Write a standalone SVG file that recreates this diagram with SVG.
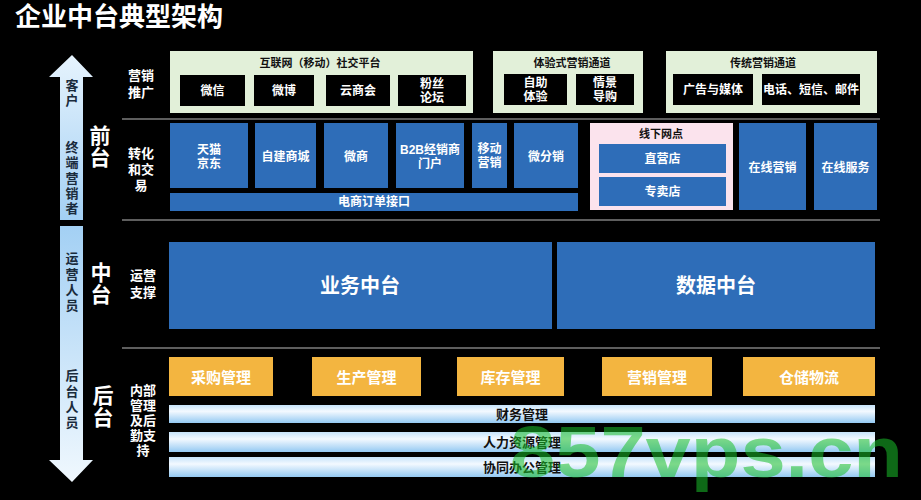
<svg xmlns="http://www.w3.org/2000/svg" width="921" height="500" viewBox="0 0 921 500">
<defs>
<linearGradient id="gUp" x1="0" y1="0" x2="0" y2="1">
<stop offset="0" stop-color="#e6f3fd"/>
<stop offset="1" stop-color="#a3d0f4"/>
</linearGradient>
<linearGradient id="gDown" x1="0" y1="0" x2="0" y2="1">
<stop offset="0" stop-color="#a3d0f4"/>
<stop offset="1" stop-color="#f0f8fe"/>
</linearGradient>
<linearGradient id="gBar" x1="0" y1="0" x2="0" y2="1">
<stop offset="0" stop-color="#c6e3fa"/>
<stop offset="0.35" stop-color="#f3f9ff"/>
<stop offset="1" stop-color="#94c9f2"/>
</linearGradient>
<style>
text{font-family:"Liberation Sans","Noto Sans CJK SC",sans-serif;font-weight:bold;text-anchor:middle;dominant-baseline:central}
.w{fill:#ffffff}
.d{fill:#111111}
.ar{fill:#1a2b3c;font-size:13px}
.big{font-size:21px}
.sub{font-size:13px}
.gt{font-size:11px}
.t12{font-size:12px}
.t15{font-size:15px}
.t13{font-size:13px}
.t20{font-size:20px}
.green{fill:#e2f0d9}
.blk{fill:#000000}
.blue{fill:#2e6db8}
.pink{fill:#fbe3ed}
.org{fill:#f3b540}
.bar{fill:url(#gBar)}
.sep{stroke:#5e5e5e;stroke-width:2}
</style>
</defs>
<rect x="0" y="0" width="921" height="500" fill="#000000"/>

<text x="15" y="17" class="w" style="font-size:26px;text-anchor:start">企业中台典型架构</text>

<g id="arrows">
<path d="M72 55 L93 77 L83 77 L83 220 L60 220 L60 77 L49 77 Z" fill="url(#gUp)"/>
<path d="M60 226 L83 226 L83 460 L93 460 L72 482 L49 460 L60 460 Z" fill="url(#gDown)"/>
<text class="ar" x="72" y="85">客</text>
<text class="ar" x="72" y="100">户</text>
<text class="ar" x="72" y="147">终</text>
<text class="ar" x="72" y="162">端</text>
<text class="ar" x="72" y="178">营</text>
<text class="ar" x="72" y="193">销</text>
<text class="ar" x="72" y="208">者</text>
<text class="ar" x="72" y="258">运</text>
<text class="ar" x="72" y="274">营</text>
<text class="ar" x="72" y="290">人</text>
<text class="ar" x="72" y="305">员</text>
<text class="ar" x="72" y="375">后</text>
<text class="ar" x="72" y="391">台</text>
<text class="ar" x="72" y="407">人</text>
<text class="ar" x="72" y="422">员</text>
</g>

<g id="layer-labels">
<text class="w big" x="100" y="135">前</text>
<text class="w big" x="100" y="157">台</text>
<text class="w big" x="101" y="272">中</text>
<text class="w big" x="101" y="294">台</text>
<text class="w big" x="103" y="395">后</text>
<text class="w big" x="103" y="417">台</text>
<text class="w sub" x="141" y="75">营销</text>
<text class="w sub" x="141" y="92">推广</text>
<text class="w sub" x="141" y="153">转化</text>
<text class="w sub" x="141" y="169">和交</text>
<text class="w sub" x="141" y="185">易</text>
<text class="w sub" x="143" y="275">运营</text>
<text class="w sub" x="143" y="292">支撑</text>
<text class="w sub" x="143" y="390">内部</text>
<text class="w sub" x="143" y="405">管理</text>
<text class="w sub" x="143" y="420">及后</text>
<text class="w sub" x="143" y="435">勤支</text>
<text class="w sub" x="143" y="450">持</text>
</g>

<g id="separators">
<line class="sep" x1="122" y1="119" x2="880" y2="119"/>
<line class="sep" x1="122" y1="220" x2="880" y2="220"/>
<line class="sep" x1="122" y1="348" x2="880" y2="348"/>
</g>

<g id="social">
<rect class="green" x="170" y="51" width="303" height="62"/>
<text class="d gt" x="320" y="63">互联网（移动）社交平台</text>
<rect class="blk" x="180" y="75" width="65" height="31"/>
<text class="w t12" x="212.5" y="90.5">微信</text>
<rect class="blk" x="254" y="75" width="60" height="31"/>
<text class="w t12" x="284" y="90.5">微博</text>
<rect class="blk" x="326" y="75" width="64" height="31"/>
<text class="w t12" x="358" y="90.5">云商会</text>
<rect class="blk" x="398" y="75" width="68" height="31"/>
<text class="w t12" x="432" y="84">粉丝</text>
<text class="w t12" x="432" y="98">论坛</text>
</g>

<g id="experience">
<rect class="green" x="493" y="51" width="150" height="62"/>
<text class="d gt" x="572" y="63">体验式营销通道</text>
<rect class="blk" x="504" y="74" width="63" height="31"/>
<text class="w t12" x="535.5" y="83">自助</text>
<text class="w t12" x="535.5" y="97">体验</text>
<rect class="blk" x="576" y="74" width="58" height="31"/>
<text class="w t12" x="605" y="83">情景</text>
<text class="w t12" x="605" y="97">导购</text>
</g>

<g id="traditional">
<rect class="green" x="666" y="51" width="211" height="62"/>
<text class="d gt" x="763" y="63">传统营销通道</text>
<rect class="blk" x="673" y="74" width="80" height="31"/>
<text class="w t12" x="713" y="89.5">广告与媒体</text>
<rect class="blk" x="762" y="74" width="98" height="31"/>
<text class="w t12" x="811" y="89.5">电话、短信、邮件</text>
</g>

<g id="tmall">
<rect class="blue" x="170" y="123" width="78" height="65"/>
<text class="w t12" x="209" y="150">天猫</text>
<text class="w t12" x="209" y="164">京东</text>
</g>
<g id="selfmall">
<rect class="blue" x="255" y="123" width="61" height="65"/>
<text class="w t12" x="285.5" y="157">自建商城</text>
</g>
<g id="weishang">
<rect class="blue" x="324" y="123" width="64" height="65"/>
<text class="w t12" x="356" y="157">微商</text>
</g>
<g id="b2b">
<rect class="blue" x="396" y="123" width="68" height="65"/>
<text class="w t12" x="430" y="150">B2B经销商</text>
<text class="w t12" x="430" y="164">门户</text>
</g>
<g id="mobile">
<rect class="blue" x="472" y="123" width="35" height="65"/>
<text class="w t12" x="489.5" y="149">移动</text>
<text class="w t12" x="489.5" y="163">营销</text>
</g>
<g id="weifenxiao">
<rect class="blue" x="514" y="123" width="64" height="65"/>
<text class="w t12" x="546" y="157">微分销</text>
</g>
<g id="order-api">
<rect class="blue" x="170" y="193" width="408" height="18"/>
<text class="w t12" x="374" y="202">电商订单接口</text>
</g>
<g id="offline">
<rect class="pink" x="590" y="123" width="143" height="87"/>
<text class="d gt" x="661" y="134">线下网点</text>
<rect class="blue" x="599" y="144" width="127" height="29"/>
<text class="w t12" x="662.5" y="158.5">直营店</text>
<rect class="blue" x="599" y="177" width="127" height="29"/>
<text class="w t12" x="662.5" y="191.5">专卖店</text>
</g>
<g id="online-marketing">
<rect class="blue" x="739" y="123" width="67" height="87"/>
<text class="w t12" x="772.5" y="168">在线营销</text>
</g>
<g id="online-service">
<rect class="blue" x="814" y="123" width="63" height="87"/>
<text class="w t12" x="845.5" y="168">在线服务</text>
</g>

<g id="business-platform">
<rect class="blue" x="169" y="242" width="383" height="87"/>
<text class="w t20" x="360" y="286">业务中台</text>
</g>
<g id="data-platform">
<rect class="blue" x="557" y="242" width="318" height="87"/>
<text class="w t20" x="716" y="286">数据中台</text>
</g>

<g id="purchase">
<rect class="org" x="169" y="357" width="104" height="39"/>
<text class="w t15" x="221" y="377">采购管理</text>
</g>
<g id="production">
<rect class="org" x="312" y="357" width="109" height="39"/>
<text class="w t15" x="366.5" y="377">生产管理</text>
</g>
<g id="inventory">
<rect class="org" x="457" y="357" width="107" height="39"/>
<text class="w t15" x="510.5" y="377">库存管理</text>
</g>
<g id="marketing-mgmt">
<rect class="org" x="602" y="357" width="110" height="39"/>
<text class="w t15" x="657" y="377">营销管理</text>
</g>
<g id="logistics">
<rect class="org" x="743" y="357" width="132" height="39"/>
<text class="w t15" x="809" y="377">仓储物流</text>
</g>

<g id="finance">
<rect class="bar" x="169" y="405" width="706" height="18"/>
<text class="d t13" x="522" y="414">财务管理</text>
</g>
<g id="hr">
<rect class="bar" x="169" y="432" width="706" height="20"/>
<text class="d t13" x="522" y="442">人力资源管理</text>
</g>
<g id="office">
<rect class="bar" x="169" y="457" width="706" height="20"/>
<text class="d t13" x="522" y="467">协同办公管理</text>
</g>

<g id="connectors"></g>

<text x="510" y="477" textLength="393" lengthAdjust="spacingAndGlyphs" style="font-family:'Liberation Sans',sans-serif;font-weight:bold;font-size:72px;text-anchor:start;dominant-baseline:alphabetic;fill:#1bc02a;opacity:0.55">857vps.cn</text>
</svg>
